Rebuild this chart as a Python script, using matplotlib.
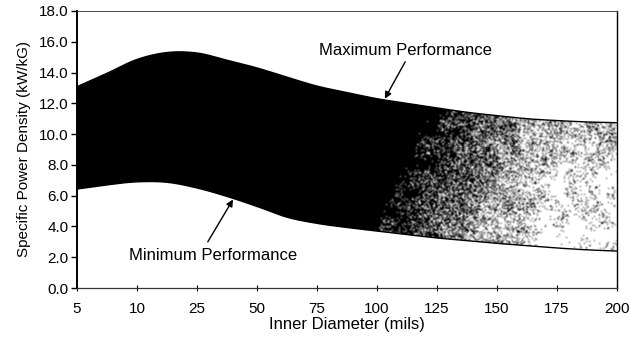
import numpy as np
import matplotlib
matplotlib.use('Agg')
import matplotlib.pyplot as plt
from matplotlib.patches import Polygon

plt.rcParams['font.family'] = ['Liberation Sans', 'DejaVu Sans']

# Inner diameter categories (equally spaced on the axis)
diameters = [5, 10, 25, 50, 75, 100, 125, 150, 175, 200]

# Curve readings taken at tick and mid-tick diameters
sample_diameters = [5, 7.5, 10, 17.5, 25, 37.5, 50, 62.5, 75, 87.5, 100,
                    112.5, 125, 137.5, 150, 162.5, 175, 187.5, 200]
max_perf = [13.08, 13.95, 14.85, 15.30, 15.27, 14.80, 14.30, 13.70, 13.12, 12.70,
            12.30, 12.00, 11.70, 11.42, 11.20, 11.00, 10.88, 10.79, 10.74]
min_perf = [6.43, 6.70, 6.90, 6.87, 6.50, 5.95, 5.30, 4.60, 4.20, 3.93,
            3.70, 3.47, 3.25, 3.08, 2.90, 2.75, 2.60, 2.48, 2.40]

y_ticks = np.arange(0, 18.1, 2.0)


def catmull_rom(xs, ys, n=20):
    """Smooth curve through the points (uniform Catmull-Rom)."""
    xs = np.asarray(xs, float)
    ys = np.asarray(ys, float)
    px = np.concatenate([[2 * xs[0] - xs[1]], xs, [2 * xs[-1] - xs[-2]]])
    py = np.concatenate([[2 * ys[0] - ys[1]], ys, [2 * ys[-1] - ys[-2]]])
    out_x, out_y = [], []
    t = np.linspace(0, 1, n, endpoint=False)
    for i in range(1, len(px) - 2):
        for arr, out in ((px, out_x), (py, out_y)):
            p0, p1, p2, p3 = arr[i - 1], arr[i], arr[i + 1], arr[i + 2]
            out.append(0.5 * (2 * p1 + (-p0 + p2) * t
                              + (2 * p0 - 5 * p1 + 4 * p2 - p3) * t ** 2
                              + (-p0 + 3 * p1 - 3 * p2 + p3) * t ** 3))
    out_x.append([xs[-1]])
    out_y.append([ys[-1]])
    return np.concatenate(out_x), np.concatenate(out_y)


def smooth(a, k):
    """Separable box/kernel filter on a 2D array."""
    a = np.apply_along_axis(lambda r: np.convolve(r, k, mode='same'), 1, a)
    return np.apply_along_axis(lambda c: np.convolve(c, k, mode='same'), 0, a)


# Axis positions of the readings on the categorical scale
idx = np.arange(len(diameters))
sample_pos = np.interp(sample_diameters, diameters, idx)
cx, c_max = catmull_rom(sample_pos, max_perf)
_, c_min = catmull_rom(sample_pos, min_perf)

fig = plt.figure(figsize=(6.3, 3.37), dpi=100)
ax = fig.add_axes([0.1222, 0.1454, 0.8572, 0.822])
ax.set_xlim(0, len(diameters) - 1)
ax.set_ylim(0, 18)

# Stippled band: solid on the left, fading to sparse grey dots on the right
W, H = 540, 277
rng = np.random.default_rng(11)
gx = (np.arange(W) + 0.5) / W * (len(diameters) - 1)
gy = (np.arange(H) + 0.5) / H * 18
lo = np.interp(gx, cx, c_min)
hi = np.interp(gx, cx, c_max)
X, Y = np.meshgrid(gx, gy)
t = np.clip((Y - lo) / (hi - lo), 0, 1)

coarse = rng.random((H // 10 + 2, W // 10 + 2))
mottle = np.kron(coarse, np.ones((10, 10)))[:H, :W]
mottle = smooth(mottle, np.ones(11) / 11)
mottle = (mottle - mottle.mean()) / mottle.std()

start = 4.9 + 1.0 * t
width = 3.0 - 0.3 * t
dens = 1 - (X - start) / width
dens = np.maximum(dens, 0.03 + 0.25 * t ** 1.5)
dens = dens + 0.07 * mottle * (dens < 0.97)
dens = np.clip(dens, 0, 1)
dots = (rng.random((H, W)) < dens).astype(float)
dots = smooth(dots, np.array([0.25, 0.5, 0.25]))
img = 1 - np.clip(dots, 0, 1)

band = Polygon(np.column_stack([np.concatenate([cx, cx[::-1]]),
                                np.concatenate([c_max, c_min[::-1]])]),
               closed=True, facecolor='none', edgecolor='none',
               transform=ax.transData)
ax.add_patch(band)
im = ax.imshow(img, cmap='gray', vmin=0, vmax=1, origin='lower',
               extent=(0, len(diameters) - 1, 0, 18), aspect='auto',
               interpolation='nearest')
im.set_clip_path(band)

ax.plot(cx, c_max, color='black', lw=1.0)
ax.plot(cx, c_min, color='black', lw=1.0)

# Labels with arrows
ax.text(5.47, 15.4, 'Maximum Performance', fontsize=12, ha='center', va='center')
ax.annotate('', xy=(5.13, 12.3), xytext=(5.47, 14.7),
            arrowprops=dict(arrowstyle='-|>', color='black', lw=1.0,
                            mutation_scale=10, shrinkA=0, shrinkB=0))
ax.text(2.27, 2.14, 'Minimum Performance', fontsize=12, ha='center', va='center')
ax.annotate('', xy=(2.6, 5.75), xytext=(2.18, 3.0),
            arrowprops=dict(arrowstyle='-|>', color='black', lw=1.0,
                            mutation_scale=10, shrinkA=0, shrinkB=0))

ax.set_xticks(idx)
ax.set_xticklabels([str(d) for d in diameters])
ax.set_yticks(y_ticks)
ax.set_yticklabels(['%.1f' % v for v in y_ticks])
ax.tick_params(axis='both', labelsize=11, colors='black')
ax.tick_params(axis='y', direction='out', length=4, width=1, pad=2)
ax.tick_params(axis='x', direction='inout', length=4, width=0.8, pad=8)

ax.spines['left'].set_linewidth(1.4)
ax.spines['right'].set_linewidth(1.0)
ax.spines['top'].set_linewidth(0.7)
ax.spines['top'].set_color('#444444')
ax.spines['bottom'].set_linewidth(0.9)
ax.spines['bottom'].set_color('#333333')

ax.set_xlabel('Inner Diameter (mils)', fontsize=12, labelpad=1)
ax.set_ylabel('Specific Power Density (kW/kG)', fontsize=11, labelpad=6)

fig.savefig('out.png', dpi=100)
